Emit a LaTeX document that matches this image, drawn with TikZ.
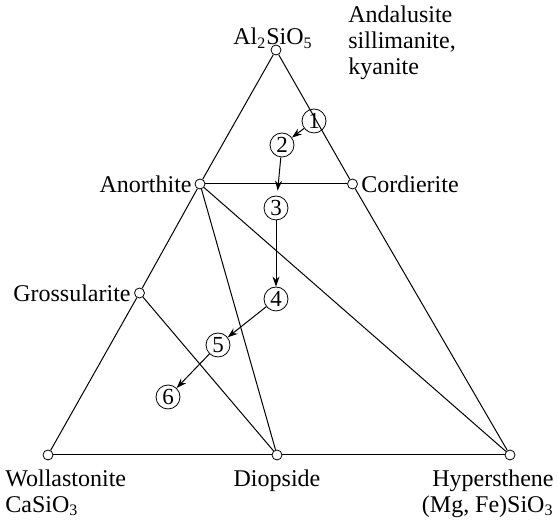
\documentclass[tikz,border=0pt]{standalone}
\usepackage{fontspec}
\setmainfont{Liberation Serif}
\usetikzlibrary{arrows.meta}

\tikzset{
  phase/.style={circle,draw,fill=white,inner sep=0pt,minimum size=5pt},
  stage/.style={circle,draw,inner sep=0pt,minimum size=12pt,font=\fontsize{11.5}{13}\selectfont},
  tie/.style={line width=0.5pt},
  path/.style={line width=0.5pt,-{Stealth[length=5pt,width=3.5pt]}},
  lbl/.style={inner sep=1pt,font=\fontsize{12}{13}\selectfont}
}

\begin{document}
\begin{tikzpicture}[x=0.5pt,y=-0.5pt]
  \useasboundingbox (0,0) rectangle (558,522);
  % corners and intermediate phases
  \node[phase] (als) at (276,50) {};
  \node[phase] (wol) at (48,455) {};
  \node[phase] (hyp) at (510,455) {};
  \node[phase] (diop) at (277,455) {};
  \node[phase] (anor) at (200,184) {};
  \node[phase] (cord) at (352.5,184) {};
  \node[phase] (gros) at (139.5,293) {};
  % outer triangle
  \draw[tie] (als) -- (anor); % Al2SiO5--An
  \draw[tie] (anor) -- (gros);
  \draw[tie] (gros) -- (wol);
  \draw[tie] (wol) -- (diop);
  \draw[tie] (diop) -- (hyp);
  \draw[tie] (hyp) -- (cord);
  \draw[tie] (cord) -- (als);
  % tie lines
  \draw[tie] (anor) -- (cord);
  \draw[tie] (anor) -- (diop);
  \draw[tie] (anor) -- (hyp);
  \draw[tie] (gros) -- (diop);
  % reaction path
  \node[stage] (s1) at (314,121) {1};
  \node[stage] (s2) at (282,145) {2};
  \node[stage] (s3) at (276,208) {3};
  \node[stage] (s4) at (276,299) {4};
  \node[stage] (s5) at (218,345) {5};
  \node[stage] (s6) at (168,397) {6};
  \draw[path] (s1) -- (s2);
  \draw[path,shorten >=2.5pt] (s2) -- (s3);
  \draw[path] (s3) -- (s4);
  \draw[path] (s4) -- (s5);
  \draw[path] (s5) -- (s6);
  % labels
  \node[lbl] (tals) at (273,38) {Al\textsubscript{2}SiO\textsubscript{5}};
  \node[lbl,anchor=north west,align=left] (tand) at (346,3) {Andalusite\\sillimanite,\\kyanite};
  \node[lbl,anchor=east] (tanor) at (194,184) {Anorthite};
  \node[lbl,anchor=west] (tcord) at (359,184) {Cordierite};
  \node[lbl,anchor=east] (tgros) at (133,293) {Grossularite};
  \node[lbl,anchor=north west,align=left] (twol) at (3,467) {Wollastonite\\CaSiO\textsubscript{3}};
  \node[lbl,anchor=north] (tdiop) at (277,467) {Diopside};
  \node[lbl,anchor=north east,align=right] (thyp) at (556,467) {Hypersthene\\(Mg, Fe)SiO\textsubscript{3}};
\end{tikzpicture}
\end{document}
